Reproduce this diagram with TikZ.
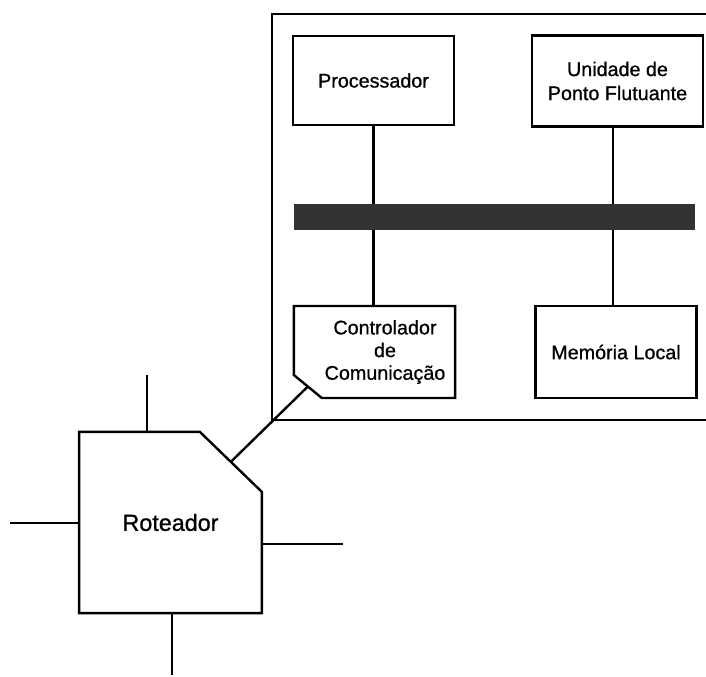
\documentclass[tikz,border=0pt]{standalone}
\usepackage{fontspec}
\setmainfont{Liberation Sans}[RawFeature={embolden=0.8}]
\begin{document}
\begin{tikzpicture}[x=0.75pt, y=-0.75pt,
  every node/.style={font=\fontsize{14.8}{18}\selectfont, align=center, outer sep=0pt},
  bloco/.style={draw, line width=1.8pt, minimum width=121pt, minimum height=67pt},
  liga/.style={line width=1.8pt},
  moldura/.style={line width=0.9pt}]
  \useasboundingbox (0,0) rectangle (706,676);

  % placa do no
  \draw[moldura] (706,14) -- (272,14) -- (272,420) -- (706,420);
  \node[bloco] (proc) at (373.5,80.5) {Processador};
  \node[bloco, minimum width=128pt, minimum height=68pt] (fpu) at (617.5,81)
    {Unidade de\\Ponto Flutuante};
  \node[fill=black!80, minimum width=300.75pt, minimum height=19.5pt] (barra) at (494.5,217) {};
  \node[bloco, minimum height=69pt] (mem) at (616,352) {Mem\'oria Local};
  \node[bloco, draw=none, minimum height=69pt] (ctrl) at (374.5,352) {};
  \node[font=\fontsize{14.8}{17}\selectfont] (ctrltxt) at (385,352)
    {Controlador\\de\\Comunica\c{c}\~ao};
  \draw[bloco] (ctrl.north west) -- (ctrl.north east) -- (ctrl.south east)
    -- ([xshift=21pt]ctrl.south west) -- ([yshift=17.25pt]ctrl.south west) -- cycle;

  % ligacoes ao barramento
  \coordinate (col1) at (373.5,0);
  \coordinate (col2) at (613,0);
  \draw[liga] (col1 |- proc.south) -- (col1 |- barra.north);
  \draw[liga] (col1 |- barra.south) -- (col1 |- ctrl.north);
  \draw[liga] (col2 |- fpu.south) -- (col2 |- barra.north);
  \draw[liga] (col2 |- barra.south) -- (col2 |- mem.north);

  % roteador
  \node[bloco, draw=none, minimum width=137pt, minimum height=136pt,
    font=\fontsize{17.5}{20}\selectfont] (rot) at (170.5,522.5) {Roteador};
  \draw[bloco] (rot.north west) -- ([xshift=-46.5pt]rot.north east) -- ([yshift=-45pt]rot.north east)
    -- (rot.south east) -- (rot.south west) -- cycle;
  \coordinate (ctrl-c) at ([xshift=10.5pt, yshift=8.6pt]ctrl.south west);
  \coordinate (rot-c) at ([xshift=-23.25pt, yshift=-22.5pt]rot.north east);
  \draw[liga] (ctrl-c) -- (rot-c);
  \coordinate (rt-n) at (147,375);
  \coordinate (rt-w) at (10,523);
  \coordinate (rt-e) at (343,544);
  \coordinate (rt-s) at (172,675);
  \draw[liga] (rt-n) -- (rt-n |- rot.north);
  \draw[liga] (rt-w) -- (rt-w -| rot.west);
  \draw[liga] (rt-e) -- (rt-e -| rot.east);
  \draw[liga] (rt-s) -- (rt-s |- rot.south);
\end{tikzpicture}
\end{document}
